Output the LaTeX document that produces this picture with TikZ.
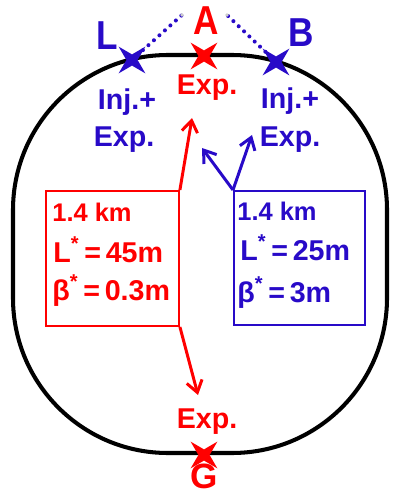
\documentclass[tikz,border=0pt]{standalone}
\usepackage{fontspec}
\setmainfont{Liberation Sans}
\usetikzlibrary{arrows.meta,shapes.geometric}

\begin{document}
\begin{tikzpicture}[x=0.02cm, y=-0.02cm, font=\bfseries,
  ipmark/.style={star, star points=4, star point ratio=3.4, minimum size=0.76cm,
    inner sep=0pt, rotate=45, fill=#1},
  bigletter/.style={font=\fontsize{20}{20}\selectfont\bfseries, anchor=base, inner sep=0pt, #1},
  explabel/.style={font=\fontsize{16.3}{16}\selectfont\bfseries, anchor=base, inner sep=0pt, #1},
  boxline/.style={font=\fontsize{16.3}{16}\selectfont\bfseries, anchor=base west, inner sep=0pt, #1},
  kmline/.style={font=\fontsize{14.5}{14}\selectfont\bfseries, anchor=base west, inner sep=0pt, #1},
  parbox/.style={draw=#1, line width=1.1pt, anchor=north west, inner sep=0pt},
  beamarrow/.style={#1, line width=1.7pt, -{Straight Barb[length=6.5pt, width=9pt]}}
]

\colorlet{cR}{red}
\definecolor{cB}{RGB}{40,10,200}

\useasboundingbox (0,0) rectangle (393,496);

%% ring
\draw[line width=2.3pt, rounded corners=3.1cm] (13,55) rectangle (387,453);

%% dotted lines from L and B towards A
\coordinate (Lfar) at (182,15);
\coordinate (Bfar) at (227,15);
\draw[cB, line width=2.3pt, dash pattern=on 0pt off 4.2pt, line cap=round] (132,60) -- (Lfar);
\draw[cB, line width=2.3pt, dash pattern=on 0pt off 4.2pt, line cap=round] (276,62) -- (Bfar);
\fill[black!20] (Lfar) circle (1.1pt);
\fill[black!20] (Bfar) circle (1.1pt);

%% interaction points
\node[ipmark=cB] (ipL) at (132,60) {};
\node[ipmark=cR] (ipA) at (204,56) {};
\node[ipmark=cB] (ipB) at (276,62) {};
\node[ipmark=cR] (ipG) at (204,455) {};

%% point names
\node[bigletter=cB] (nameL) at (107,50) {\scalebox{1}[1.15]{L}};
\node[bigletter=cR] (nameA) at (206,35) {\scalebox{1}[1.15]{A}};
\node[bigletter=cB] (nameB) at (301,47) {\scalebox{1}[1.15]{B}};
\node[bigletter=cR] (nameG) at (204,488) {G};

%% point roles
\node[explabel=cR] (expA) at (207,95) {Exp.};
\node[explabel=cB] (injL) at (127,110) {Inj.+};
\node[explabel=cB] (expL) at (124,147) {Exp.};
\node[explabel=cB] (injB) at (290,109) {Inj.+};
\node[explabel=cB] (expB) at (290,147) {Exp.};
\node[explabel=cR] (expG) at (207,428) {Exp.};

%% parameter boxes
\node[parbox=cR, minimum width=2.66cm, minimum height=2.7cm] (rbox) at (45,190) {};
\node[kmline=cR] (rkm) at (52,222) {1.4 km};
\node[boxline=cR] (rL) at (53,262) {L\textsuperscript{*}\,=\,45m};
\node[boxline=cR] (rbeta) at (52,300) {β\textsuperscript{*}\,=\,0.3m};

\node[parbox=cB, minimum width=2.62cm, minimum height=2.68cm] (bbox) at (233,190) {};
\node[kmline=cB] (bkm) at (237,220) {1.4 km};
\node[boxline=cB] (bL) at (240,260) {L\textsuperscript{*}\,=\,25m};
\node[boxline=cB] (bbeta) at (237,302) {β\textsuperscript{*}\,=\,3m};

%% arrows to the experiments
\coordinate (rup) at (192,118);
\coordinate (rdown) at (198,395);
\coordinate (bleft) at (202,148);
\coordinate (bright) at (252,135);
\draw[beamarrow=cR] (rbox.north east) -- (rup);
\draw[beamarrow=cR] (rbox.south east) -- (rdown);
\draw[beamarrow=cB] (bbox.north west) -- (bleft);
\draw[beamarrow=cB] (bbox.north west) -- (bright);

\end{tikzpicture}
\end{document}
